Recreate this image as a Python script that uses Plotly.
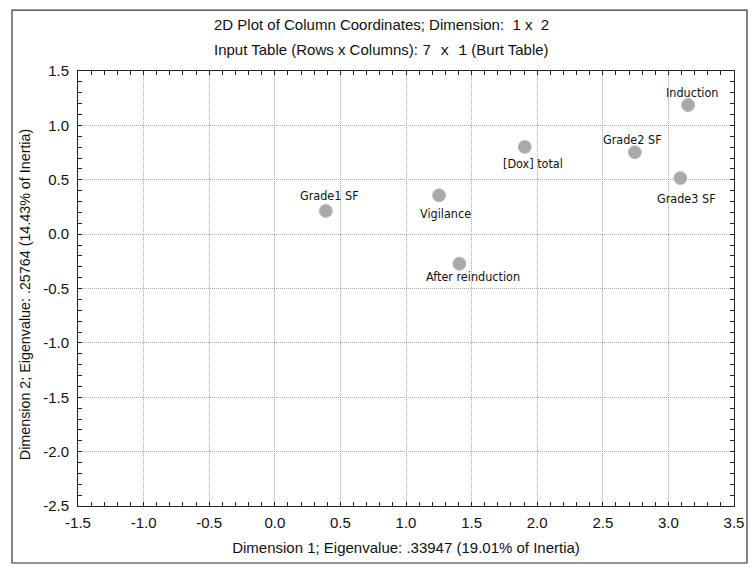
import plotly.graph_objects as go

labels = ["Induction", "Grade2 SF", "Grade3 SF", "[Dox] total", "Vigilance", "Grade1 SF", "After reinduction"]
dim1 = [3.150, 2.744, 3.091, 1.905, 1.252, 0.389, 1.407]
dim2 = [1.187, 0.753, 0.515, 0.802, 0.357, 0.213, -0.272]

x_ticks = [-1.5, -1.0, -0.5, 0.0, 0.5, 1.0, 1.5, 2.0, 2.5, 3.0, 3.5]
y_ticks = [1.5, 1.0, 0.5, 0.0, -0.5, -1.0, -1.5, -2.0, -2.5]

# label offsets (pixels) relative to each point
label_dx = [4, -2, 6, 8, 6, 4, 14]
label_dy = [13, 13, -20, -17, -18, 15, -13]

title_font = "Liberation Sans, Arial, sans-serif"
label_font = "DejaVu Sans Condensed, DejaVu Sans, sans-serif"

fig = go.Figure()
fig.add_trace(go.Scatter(
    x=dim1, y=dim2, mode="markers",
    marker=dict(size=13, color="#a9a9a9", line=dict(color="#bdbdbd", width=1)),
    hoverinfo="text", text=labels, showlegend=False,
))

for lab, x, y, dx, dy in zip(labels, dim1, dim2, label_dx, label_dy):
    fig.add_annotation(x=x, y=y, text=lab, showarrow=False, xshift=dx, yshift=dy,
                       font=dict(family=label_font, size=12.5, color="#111"))

fig.add_annotation(xref="paper", yref="paper", x=0.462, y=1.106, showarrow=False,
                   xanchor="center", yanchor="middle",
                   text="2D Plot of Column Coordinates; Dimension:  1 x  2",
                   font=dict(family=title_font, size=15, color="#111"))
fig.add_annotation(xref="paper", yref="paper", x=0.462, y=1.048, showarrow=False,
                   xanchor="center", yanchor="middle",
                   text="Input Table (Rows x Columns): <span style='font-family:Liberation Mono, DejaVu Sans Mono, monospace'>7 x 1</span> (Burt Table)",
                   font=dict(family=title_font, size=15, color="#111"))
fig.add_annotation(xref="paper", yref="paper", x=-0.0808, y=0.487, showarrow=False,
                   xanchor="center", yanchor="middle", textangle=-90,
                   text="Dimension 2; Eigenvalue: .25764 (14.43% of Inertia)",
                   font=dict(family=title_font, size=14.3, color="#111"))

# outer frame
fig.add_shape(type="rect", xref="paper", yref="paper", x0=-0.1006, x1=1.0198, y0=-0.131, y1=1.140,
              line=dict(color="#333", width=1.2), fillcolor="rgba(0,0,0,0)", layer="below")

axis_common = dict(
    automargin=False, tickmode="array",
    showgrid=True, gridcolor="#a8a8a8", griddash="1px,1px", gridwidth=1,
    zeroline=False, showline=True, linecolor="#222", linewidth=1, mirror="allticks",
    ticks="inside", ticklen=4, tickcolor="#222",
    tickfont=dict(family=title_font, size=15, color="#111"),
    minor=dict(tickmode="linear", tick0=0, dtick=0.1, ticks="inside", ticklen=4,
               tickcolor="#222", showgrid=False),
)

fig.update_layout(
    width=754, height=570,
    margin=dict(l=78, r=20, t=71, b=64),
    paper_bgcolor="white", plot_bgcolor="white",
    xaxis=dict(range=[-1.5, 3.5], tickvals=x_ticks, ticktext=[f"{v:.1f}" for v in x_ticks],
               ticklabelstandoff=3,
               title=dict(text="Dimension 1; Eigenvalue: .33947 (19.01% of Inertia)",
                          font=dict(family=title_font, size=15, color="#111"), standoff=12),
               **axis_common),
    yaxis=dict(range=[-2.5, 1.5], tickvals=y_ticks, ticktext=[f"{v:.1f}" for v in y_ticks],
               ticklabelstandoff=5,
               **axis_common),
)

fig.write_html("out.html", config={"displayModeBar": False},
               post_script="document.body.style.margin='0';")
